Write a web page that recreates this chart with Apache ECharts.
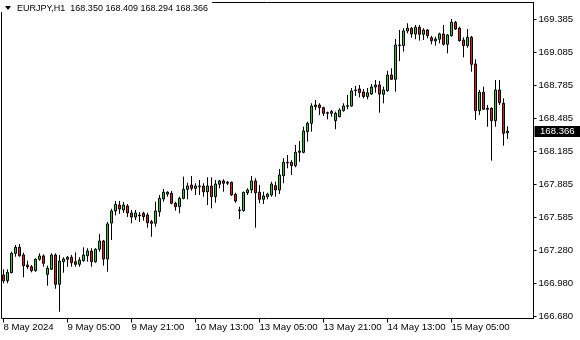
<!DOCTYPE html>
<html><head><meta charset="utf-8">
<script src="https://cdn.jsdelivr.net/npm/echarts@6/dist/echarts.min.js"></script>
<style>html,body{margin:0;padding:0;background:#fff}#c{width:580px;height:340px}</style>
</head><body><div id="c"></div>
<script>
const symbol = "EURJPY,H1";
const opens = [167.058,167.006,167.079,167.255,167.310,167.240,167.149,167.133,167.097,167.201,
167.231,167.064,167.110,167.240,166.973,167.179,167.201,167.219,167.179,167.155,
167.188,167.233,167.276,167.179,167.292,167.367,167.203,167.530,167.640,167.694,
167.649,167.685,167.622,167.585,167.603,167.619,167.603,167.543,167.528,167.634,
167.749,167.794,167.801,167.710,167.679,167.755,167.837,167.876,167.846,167.861,
167.867,167.815,167.867,167.770,167.883,167.913,167.892,167.901,167.791,167.649,
167.643,167.806,167.831,167.913,167.810,167.746,167.770,167.785,167.870,167.831,
167.961,168.076,168.083,168.052,168.173,168.173,168.361,168.437,168.588,168.603,
168.579,168.533,168.528,168.461,168.497,168.552,168.592,168.594,168.735,168.749,
168.722,168.681,168.703,168.767,168.785,168.701,168.733,168.876,168.837,169.143,
169.143,169.276,169.301,169.249,169.310,169.246,169.285,169.215,169.185,169.201,
169.249,169.155,169.233,169.355,169.301,169.194,169.143,169.219,168.976,168.552,
168.719,168.573,168.573,168.461,168.740,168.619,168.350];
const highs = [167.110,167.110,167.270,167.331,167.340,167.261,167.188,167.149,167.210,167.255,
167.246,167.143,167.255,167.255,167.240,167.219,167.231,167.240,167.264,167.219,
167.310,167.301,167.301,167.301,167.431,167.376,167.540,167.660,167.731,167.731,
167.722,167.703,167.649,167.649,167.630,167.634,167.624,167.558,167.724,167.785,
167.840,167.819,167.822,167.724,167.770,167.952,167.897,167.958,167.892,167.922,
167.892,167.946,167.946,167.922,167.922,167.928,167.913,167.906,167.806,167.679,
167.815,167.846,167.958,167.937,167.876,167.815,167.806,167.906,167.906,168.022,
168.119,168.149,168.103,168.240,168.276,168.406,168.452,168.619,168.649,168.619,
168.588,168.543,168.558,168.543,168.573,168.619,168.694,168.758,168.776,168.785,
168.749,168.758,168.794,168.831,168.822,168.770,168.913,168.937,169.203,169.285,
169.301,169.346,169.310,169.331,169.331,169.301,169.294,169.231,169.224,169.261,
169.331,169.249,169.385,169.367,169.315,169.219,169.294,169.231,169.019,168.740,
168.770,168.603,168.582,168.831,168.831,168.664,168.409];
const lows = [166.983,166.983,167.073,167.224,167.224,167.037,167.113,167.082,167.088,167.188,
167.133,166.961,167.103,166.933,166.724,167.079,167.133,167.133,167.133,167.133,
167.179,167.179,167.133,167.170,167.270,167.143,167.088,167.376,167.600,167.613,
167.622,167.585,167.528,167.558,167.540,167.552,167.488,167.406,167.497,167.588,
167.724,167.770,167.701,167.643,167.619,167.746,167.746,167.824,167.785,167.785,
167.770,167.694,167.664,167.715,167.846,167.815,167.876,167.776,167.715,167.567,
167.634,167.785,167.801,167.488,167.710,167.703,167.746,167.770,167.770,167.794,
167.892,168.028,167.967,168.037,168.088,168.164,168.270,168.361,168.558,168.513,
168.503,168.473,168.497,168.383,168.492,168.543,168.564,168.588,168.685,168.673,
168.664,168.655,168.694,168.715,168.533,168.619,168.724,168.831,168.724,169.003,
169.088,169.255,169.215,169.201,169.188,169.194,169.210,169.155,169.143,169.164,
169.143,169.073,169.224,169.285,169.179,169.037,169.124,168.906,168.467,168.513,
168.558,168.406,168.097,168.406,168.603,168.233,168.294];
const closes = [167.006,167.082,167.255,167.310,167.233,167.143,167.133,167.097,167.201,167.231,
167.164,167.119,167.240,166.973,167.185,167.203,167.219,167.170,167.155,167.194,
167.240,167.276,167.179,167.292,167.367,167.203,167.522,167.640,167.700,167.658,
167.694,167.622,167.585,167.622,167.597,167.588,167.533,167.528,167.640,167.755,
167.810,167.810,167.710,167.679,167.755,167.837,167.867,167.846,167.867,167.867,
167.815,167.867,167.770,167.885,167.913,167.892,167.901,167.785,167.731,167.643,
167.810,167.831,167.913,167.806,167.746,167.776,167.794,167.885,167.831,167.967,
168.083,168.083,168.052,168.173,168.185,168.367,168.437,168.594,168.603,168.579,
168.528,168.528,168.543,168.528,168.558,168.594,168.597,168.731,168.740,168.717,
168.681,168.715,168.767,168.785,168.703,168.740,168.876,168.837,169.149,169.149,
169.276,169.301,169.249,169.310,169.246,169.285,169.233,169.188,169.203,169.249,
169.155,169.240,169.355,169.294,169.188,169.143,169.219,168.973,168.552,168.719,
168.564,168.564,168.461,168.740,168.624,168.346,168.366];
const priceTicks = [169.385,169.085,168.785,168.485,168.185,167.885,167.585,167.280,166.980,166.680];
const timeTicks = ["8 May 2024","9 May 05:00","9 May 21:00","10 May 13:00","13 May 05:00","13 May 21:00","14 May 13:00","15 May 05:00"];
const timeTickBars = [0,16,32,48,64,80,96,112];
const futureBars = 6;

const months = ["Jan","Feb","Mar","Apr","May","Jun","Jul","Aug","Sep","Oct","Nov","Dec"];
const firstBar = Date.UTC(2024,4,8,13);
const weekendStart = Date.UTC(2024,4,11,0);
const cats = [];
for (let i = 0; i < opens.length + futureBars; i++) {
  let t = firstBar + i*3600e3;
  if (t >= weekendStart) t += 48*3600e3;
  const d = new Date(t);
  cats.push(d.getUTCDate()+" "+months[d.getUTCMonth()]+" "+String(d.getUTCHours()).padStart(2,"0")+":00");
}
const ohlc = opens.map((o,i)=>[o, closes[i], lows[i], highs[i]]);

const FONT = "'Liberation Sans',Arial,sans-serif";
const FS = 9.6;
const FS_TITLE = 9;
const chart = echarts.init(document.getElementById('c'), null, {renderer:'canvas'});
const isTick = (idx) => timeTickBars.indexOf(idx) >= 0;
chart.setOption({
  animation:false,
  backgroundColor:'#fff',
  grid:{left:1.5, right:46.5, top:2.5, bottom:21.5, show:true, borderColor:'#000', borderWidth:1, backgroundColor:'#fff'},
  xAxis:{type:'category', data:cats, boundaryGap:true,
    axisLine:{show:false},
    axisTick:{show:true, interval:isTick, alignWithLabel:true, length:4, lineStyle:{color:'#000'}},
    axisLabel:{interval:isTick, align:'left', margin:4, color:'#000', fontFamily:FONT, fontSize:FS,
      formatter:(v,idx)=>timeTicks[timeTickBars.indexOf(idx)]},
    splitLine:{show:false}},
  yAxis:{type:'value', position:'right', min:166.6625, max:169.535, scale:true,
    axisLine:{show:true, lineStyle:{color:'#000'}},
    axisTick:{show:true, customValues:priceTicks, length:3, lineStyle:{color:'#000'}},
    axisLabel:{customValues:priceTicks, margin:5, color:'#000', fontFamily:FONT, fontSize:FS,
      formatter:(v)=>v.toFixed(3)},
    splitLine:{show:false}},
  series:[{type:'candlestick', data:ohlc, barWidth:3,
    itemStyle:{color:'#35c135', color0:'#dd1c1c', borderColor:'#000', borderColor0:'#000', borderColorDoji:'#000', borderWidth:1}}]
});
const last = opens.length-1;
const yLast = chart.convertToPixel({yAxisIndex:0}, closes[last]);
const f3 = v=>v.toFixed(3);
chart.setOption({graphic:[
  {type:'rect', z:100, shape:{x:0,y:0,width:212,height:12}, style:{fill:'#fff'}},
  {type:'polygon', z:101, shape:{points:[[5,6],[11,6],[8,10]]}, style:{fill:'#000'}},
  {type:'text', z:101, x:17, y:8.5, style:{text:symbol+"  "+f3(opens[last])+" "+f3(highs[last])+" "+f3(lows[last])+" "+f3(closes[last]),
     font:FS_TITLE+"px "+FONT, fill:'#000', verticalAlign:'middle'}},
  {type:'rect', z:100, shape:{x:534.5, y:Math.round(yLast)-5, width:46, height:11}, style:{fill:'#000'}},
  {type:'text', z:101, x:540, y:Math.round(yLast)+0.5, style:{text:f3(closes[last]), font:FS+"px "+FONT, fill:'#fff', verticalAlign:'middle'}}
]});
</script></body></html>
